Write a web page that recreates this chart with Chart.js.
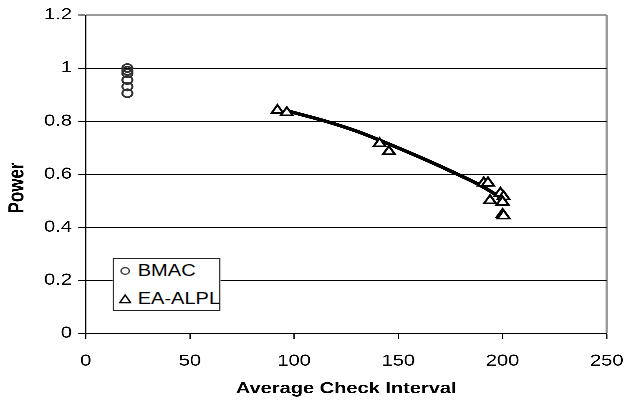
<!DOCTYPE html>
<html lang="en">
<head>
<meta charset="UTF-8">
<title>Power vs Average Check Interval</title>
<script src="https://cdn.jsdelivr.net/npm/chart.js"></script>
<style>
  body { margin: 0; background: #fff; }
  /* the original picture is stretched sideways, so the whole chart is drawn narrow and widened */
  #wrap { position: relative; width: 500px; height: 403px; transform: scaleX(1.252); transform-origin: 0 0; }
  #legend { position: absolute; left: 90px; top: 258px; width: 84px; height: 51px; border: 1px solid #222; background: #fff;
            font: 16px "Liberation Sans", Arial, sans-serif; color: #000; }
  .row { position: absolute; left: 0; height: 20px; line-height: 20px; white-space: nowrap; }
  .row svg { position: absolute; left: 4px; top: 5px; }
  .row span { position: absolute; left: 19px; top: 0; }
</style>
</head>
<body>
<div id="wrap">
  <canvas id="powerChart"></canvas>
  <div id="legend">
    <div class="row" style="top:2px">
      <svg width="10" height="10"><circle cx="5" cy="5" r="3.3" fill="none" stroke="#333" stroke-width="1.2"/></svg>
      <span>BMAC</span>
    </div>
    <div class="row" style="top:30px">
      <svg width="10" height="10"><polygon points="5,1 9.3,8.6 0.7,8.6" fill="#fff" stroke="#000" stroke-width="1.3"/></svg>
      <span>EA-ALPL</span>
    </div>
  </div>
</div>

<script>
  const FONT = '"Liberation Sans", Arial, sans-serif';

  // axis ticks
  const xTicks = [0, 50, 100, 150, 200, 250];
  const yTicks = [0, 0.2, 0.4, 0.6, 0.8, 1, 1.2];

  // BMAC (circles)
  const bmacX = [20, 20, 20, 20, 20, 20];
  const bmacY = [1.0, 0.99, 0.98, 0.955, 0.93, 0.905];

  // EA-ALPL (triangles)
  const eaX = [92, 96.5, 141, 145.5, 191, 193, 194, 199, 200.5, 200, 200, 200.5];
  const eaY = [0.84, 0.832, 0.715, 0.685, 0.567, 0.567, 0.5, 0.528, 0.515, 0.495, 0.448, 0.443];

  // fitted curve through EA-ALPL
  const fitX = [97, 115, 130, 145, 160, 175, 190, 201];
  const fitY = [0.838, 0.8, 0.762, 0.715, 0.665, 0.612, 0.555, 0.502];

  const toPoints = (xs, ys) => xs.map((x, i) => ({ x: x, y: ys[i] }));

  // y axis title sits a little below the middle of the plot in the original
  const yTitle = {
    id: 'yTitle',
    afterDraw(chart) {
      const ctx = chart.ctx;
      ctx.save();
      ctx.translate(14, 188);
      ctx.rotate(-Math.PI / 2);
      ctx.font = 'bold 17px ' + FONT;
      ctx.fillStyle = '#000';
      ctx.textAlign = 'center';
      ctx.textBaseline = 'middle';
      ctx.fillText('Power', 0, 0);
      ctx.restore();
    }
  };

  new Chart(document.getElementById('powerChart'), {
    type: 'scatter',
    data: {
      datasets: [
        {
          label: 'EA-ALPL',
          data: toPoints(eaX, eaY),
          pointStyle: 'triangle',
          pointRadius: 5.5,
          pointBorderColor: '#000',
          pointBorderWidth: 1.8,
          pointBackgroundColor: '#fff'
        },
        {
          label: 'BMAC',
          data: toPoints(bmacX, bmacY),
          pointStyle: 'circle',
          pointRadius: 4,
          pointBorderColor: '#333',
          pointBorderWidth: 1.6,
          pointBackgroundColor: 'rgba(0,0,0,0)'
        },
        {
          label: 'fit',
          data: toPoints(fitX, fitY),
          showLine: true,
          pointRadius: 0,
          borderColor: '#000',
          borderWidth: 3.5,
          cubicInterpolationMode: 'monotone'
        }
      ]
    },
    options: {
      responsive: true,
      maintainAspectRatio: false,
      animation: false,
      devicePixelRatio: 3,
      layout: { padding: { left: 0, right: 15.4, top: 15, bottom: 0 } },
      plugins: {
        legend: { display: false },
        tooltip: { enabled: false }
      },
      scales: {
        x: {
          type: 'linear',
          min: 0,
          max: 250,
          afterBuildTicks: s => { s.ticks = xTicks.map(v => ({ value: v })); },
          afterFit: s => { s.height = 69.7; },
          grid: {
            drawOnChartArea: true,
            color: c => (c.tick && c.tick.value === 250) ? '#9a9a9a' : 'rgba(0,0,0,0)',
            lineWidth: c => (c.tick && c.tick.value === 250) ? 2 : 1,
            tickColor: '#000',
            tickWidth: 1,
            tickLength: 6
          },
          border: { color: '#000', width: 1 },
          ticks: {
            color: '#000',
            // tall line height pushes the labels down without widening the side padding
            font: { family: FONT, size: 16, lineHeight: 2.5 },
            padding: 2,
            maxRotation: 0,
            autoSkip: false,
            callback: v => String(v)
          },
          title: {
            display: true,
            text: 'Average Check Interval',
            color: '#000',
            font: { family: FONT, size: 16, weight: 'bold' },
            padding: { top: 0, bottom: 4.5 }
          }
        },
        y: {
          min: 0,
          max: 1.2,
          afterBuildTicks: s => { s.ticks = yTicks.map(v => ({ value: v })); },
          afterFit: s => { s.width = 68.45; },
          grid: {
            color: c => (c.tick && c.tick.value === 1.2) ? '#9a9a9a' : '#000',
            lineWidth: c => (c.tick && c.tick.value === 1.2) ? 2 : 1,
            tickColor: '#000',
            tickWidth: 1,
            tickLength: 6
          },
          border: { color: '#000', width: 1 },
          ticks: {
            color: '#000',
            font: { family: FONT, size: 16 },
            padding: 5,
            autoSkip: false,
            callback: v => String(v)
          },
          title: { display: false }
        }
      }
    },
    plugins: [yTitle]
  });
</script>
</body>
</html>
